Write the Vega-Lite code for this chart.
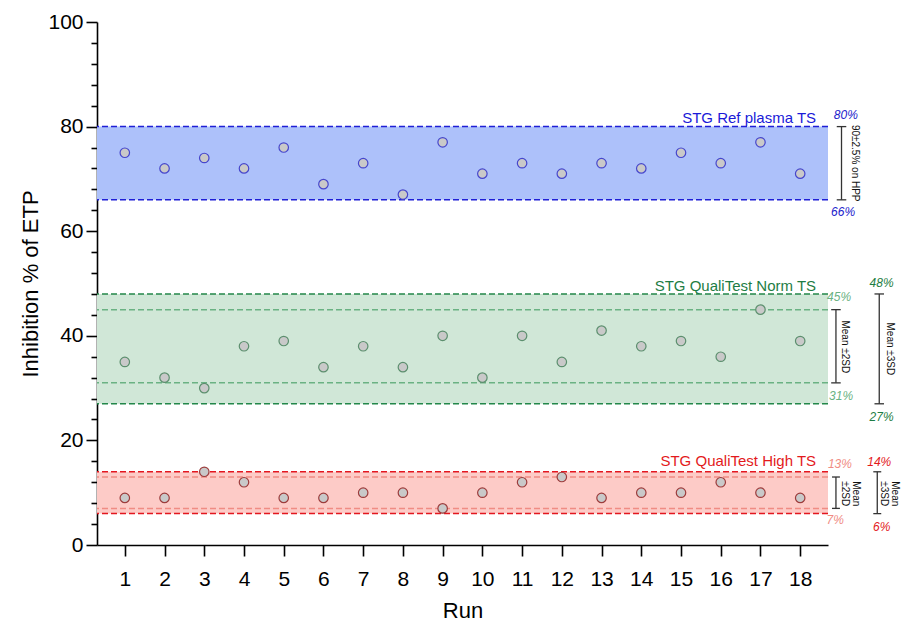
{
  "$schema": "https://vega.github.io/schema/vega-lite/v6.json",
  "width": 731,
  "height": 523,
  "autosize": "none",
  "padding": {"left": 97, "top": 22, "right": 81, "bottom": 78},
  "background": "white",
  "config": {
    "font": "Liberation Sans",
    "view": {"stroke": null},
    "axis": {
      "grid": false,
      "domainColor": "#000000",
      "domainWidth": 1.6,
      "tickColor": "#000000",
      "tickWidth": 1.6,
      "labelColor": "#000000",
      "titleColor": "#000000",
      "titleFontWeight": "normal",
      "labelFontSize": 21,
      "titleFontSize": 22,
      "labelFont": "Liberation Sans",
      "titleFont": "Liberation Sans"
    }
  },
  "datasets": {
    "bands": [
      {"lo": 66, "hi": 80, "fill": "#adc1fa", "xa": 0.3, "xb": 18.7},
      {"lo": 27, "hi": 48, "fill": "#d0e7d7", "xa": 0.3, "xb": 18.7},
      {"lo": 6, "hi": 14, "fill": "#fdcbc7", "xa": 0.3, "xb": 18.7}
    ],
    "lines": [
      {"v": 80, "c": "#1f1fd6"},
      {"v": 66, "c": "#1f1fd6"},
      {"v": 48, "c": "#23874a"},
      {"v": 27, "c": "#23874a"},
      {"v": 45, "c": "#6ab283"},
      {"v": 31, "c": "#6ab283"},
      {"v": 14, "c": "#e3161f"},
      {"v": 6, "c": "#e3161f"},
      {"v": 13, "c": "#f08c84"},
      {"v": 7, "c": "#f08c84"}
    ],
    "points": [
      {"run": 1, "val": 75, "g": "ref"}, {"run": 2, "val": 72, "g": "ref"}, {"run": 3, "val": 74, "g": "ref"},
      {"run": 4, "val": 72, "g": "ref"}, {"run": 5, "val": 76, "g": "ref"}, {"run": 6, "val": 69, "g": "ref"},
      {"run": 7, "val": 73, "g": "ref"}, {"run": 8, "val": 67, "g": "ref"}, {"run": 9, "val": 77, "g": "ref"},
      {"run": 10, "val": 71, "g": "ref"}, {"run": 11, "val": 73, "g": "ref"}, {"run": 12, "val": 71, "g": "ref"},
      {"run": 13, "val": 73, "g": "ref"}, {"run": 14, "val": 72, "g": "ref"}, {"run": 15, "val": 75, "g": "ref"},
      {"run": 16, "val": 73, "g": "ref"}, {"run": 17, "val": 77, "g": "ref"}, {"run": 18, "val": 71, "g": "ref"},
      {"run": 1, "val": 35, "g": "norm"}, {"run": 2, "val": 32, "g": "norm"}, {"run": 3, "val": 30, "g": "norm"},
      {"run": 4, "val": 38, "g": "norm"}, {"run": 5, "val": 39, "g": "norm"}, {"run": 6, "val": 34, "g": "norm"},
      {"run": 7, "val": 38, "g": "norm"}, {"run": 8, "val": 34, "g": "norm"}, {"run": 9, "val": 40, "g": "norm"},
      {"run": 10, "val": 32, "g": "norm"}, {"run": 11, "val": 40, "g": "norm"}, {"run": 12, "val": 35, "g": "norm"},
      {"run": 13, "val": 41, "g": "norm"}, {"run": 14, "val": 38, "g": "norm"}, {"run": 15, "val": 39, "g": "norm"},
      {"run": 16, "val": 36, "g": "norm"}, {"run": 17, "val": 45, "g": "norm"}, {"run": 18, "val": 39, "g": "norm"},
      {"run": 1, "val": 9, "g": "high"}, {"run": 2, "val": 9, "g": "high"}, {"run": 3, "val": 14, "g": "high"},
      {"run": 4, "val": 12, "g": "high"}, {"run": 5, "val": 9, "g": "high"}, {"run": 6, "val": 9, "g": "high"},
      {"run": 7, "val": 10, "g": "high"}, {"run": 8, "val": 10, "g": "high"}, {"run": 9, "val": 7, "g": "high"},
      {"run": 10, "val": 10, "g": "high"}, {"run": 11, "val": 12, "g": "high"}, {"run": 12, "val": 13, "g": "high"},
      {"run": 13, "val": 9, "g": "high"}, {"run": 14, "val": 10, "g": "high"}, {"run": 15, "val": 10, "g": "high"},
      {"run": 16, "val": 12, "g": "high"}, {"run": 17, "val": 10, "g": "high"}, {"run": 18, "val": 9, "g": "high"}
    ],
    "titles": [
      {"x": 18.4, "y": 80.7, "t": "STG Ref plasma TS", "c": "#1a1ad8"},
      {"x": 18.4, "y": 48.6, "t": "STG QualiTest Norm TS", "c": "#1e7d44"},
      {"x": 18.4, "y": 15.1, "t": "STG QualiTest High TS", "c": "#e31a1c"}
    ],
    "pcts": [
      {"x": 19.15, "y": 82.2, "t": "80%", "c": "#2222cc"},
      {"x": 19.08, "y": 63.7, "t": "66%", "c": "#2222cc"},
      {"x": 20.05, "y": 50.1, "t": "48%", "c": "#1e7d44"},
      {"x": 18.98, "y": 47.4, "t": "45%", "c": "#6ab283"},
      {"x": 19.03, "y": 28.5, "t": "31%", "c": "#6ab283"},
      {"x": 20.05, "y": 24.5, "t": "27%", "c": "#1e7d44"},
      {"x": 19.0, "y": 15.5, "t": "13%", "c": "#f08c84"},
      {"x": 19.99, "y": 15.9, "t": "14%", "c": "#e31a1c"},
      {"x": 18.88, "y": 4.8, "t": "7%", "c": "#f08c84"},
      {"x": 20.05, "y": 3.4, "t": "6%", "c": "#e31a1c"}
    ],
    "brackets": [
      {"x": 19.04, "lo": 66, "hi": 80},
      {"x": 18.9, "lo": 31, "hi": 45},
      {"x": 19.99, "lo": 27, "hi": 48},
      {"x": 18.9, "lo": 7, "hi": 13},
      {"x": 19.94, "lo": 6, "hi": 14}
    ],
    "caps": [
      {"xa": 18.92, "xb": 19.16, "y": 80}, {"xa": 18.92, "xb": 19.16, "y": 66},
      {"xa": 18.78, "xb": 19.02, "y": 45}, {"xa": 18.78, "xb": 19.02, "y": 31},
      {"xa": 19.87, "xb": 20.11, "y": 48}, {"xa": 19.87, "xb": 20.11, "y": 27},
      {"xa": 18.8, "xb": 19.0, "y": 13}, {"xa": 18.8, "xb": 19.0, "y": 7},
      {"xa": 19.84, "xb": 20.04, "y": 14}, {"xa": 19.84, "xb": 20.04, "y": 6}
    ],
    "notes": [
      {"x": 19.38, "y": 73, "t": ["90±2.5% on HPP"]},
      {"x": 19.13, "y": 37.9, "t": ["Mean ±2SD"]},
      {"x": 20.26, "y": 37.5, "t": ["Mean ±3SD"]},
      {"x": 19.4, "y": 9.8, "t": ["Mean", "±2SD"]},
      {"x": 20.38, "y": 9.8, "t": ["Mean", "±3SD"]}
    ]
  },
  "layer": [
    {
      "data": {"name": "bands"},
      "mark": {"type": "rect"},
      "encoding": {
        "x": {"field": "xa", "type": "quantitative", "scale": {"domain": [0.3, 18.7], "nice": false, "zero": false}},
        "x2": {"field": "xb"},
        "y": {"field": "lo", "type": "quantitative", "scale": {"domain": [0, 100], "nice": false}},
        "y2": {"field": "hi"},
        "color": {"field": "fill", "type": "nominal", "scale": null}
      }
    },
    {
      "data": {"name": "lines"},
      "mark": {"type": "rule", "strokeDash": [6, 3], "strokeWidth": 1.5},
      "encoding": {
        "y": {"field": "v", "type": "quantitative"},
        "color": {"field": "c", "type": "nominal", "scale": null}
      }
    },
    {
      "data": {"name": "points"},
      "mark": {"type": "point", "filled": false, "fill": "#c9c9c9", "fillOpacity": 1, "size": 90, "strokeWidth": 1.2, "opacity": 1},
      "encoding": {
        "x": {"field": "run", "type": "quantitative",
          "axis": {"values": [1,2,3,4,5,6,7,8,9,10,11,12,13,14,15,16,17,18], "tickCount": 30, "format": "d", "tickSize": 11, "labelPadding": 12, "title": "Run", "titlePadding": 11, "labelOverlap": false}},
        "y": {"field": "val", "type": "quantitative",
          "axis": {"values": [0,4,8,12,16,20,24,28,32,36,40,44,48,52,56,60,64,68,72,76,80,84,88,92,96,100],
            "tickCount": 40,
            "labelExpr": "datum.value % 20 === 0 ? datum.label : ''",
            "labelOverlap": false,
            "tickSize": {"condition": {"test": "datum.value % 20 === 0", "value": 11}, "value": 6},
            "labelPadding": 3, "title": "Inhibition % of ETP", "titlePadding": 5}},
        "stroke": {"field": "g", "type": "nominal", "scale": {"domain": ["ref", "norm", "high"], "range": ["#4646cc", "#5c8f6e", "#9c3c3c"]}, "legend": null}
      }
    },
    {
      "data": {"name": "titles"},
      "mark": {"type": "text", "align": "right", "baseline": "alphabetic", "fontSize": 15},
      "encoding": {
        "x": {"field": "x", "type": "quantitative"},
        "y": {"field": "y", "type": "quantitative"},
        "text": {"field": "t"},
        "color": {"field": "c", "type": "nominal", "scale": null}
      }
    },
    {
      "data": {"name": "pcts"},
      "mark": {"type": "text", "align": "center", "baseline": "middle", "fontSize": 12, "fontStyle": "italic"},
      "encoding": {
        "x": {"field": "x", "type": "quantitative"},
        "y": {"field": "y", "type": "quantitative"},
        "text": {"field": "t"},
        "color": {"field": "c", "type": "nominal", "scale": null}
      }
    },
    {
      "data": {"name": "brackets"},
      "mark": {"type": "rule", "color": "#333333", "strokeWidth": 1.3},
      "encoding": {
        "x": {"field": "x", "type": "quantitative"},
        "y": {"field": "lo", "type": "quantitative"},
        "y2": {"field": "hi"}
      }
    },
    {
      "data": {"name": "caps"},
      "mark": {"type": "rule", "color": "#333333", "strokeWidth": 1.3},
      "encoding": {
        "x": {"field": "xa", "type": "quantitative"},
        "x2": {"field": "xb"},
        "y": {"field": "y", "type": "quantitative"}
      }
    },
    {
      "data": {"name": "notes"},
      "mark": {"type": "text", "angle": 90, "align": "center", "baseline": "middle", "fontSize": 10, "lineHeight": 11, "color": "#111111"},
      "encoding": {
        "x": {"field": "x", "type": "quantitative"},
        "y": {"field": "y", "type": "quantitative"},
        "text": {"field": "t"}
      }
    }
  ]
}
